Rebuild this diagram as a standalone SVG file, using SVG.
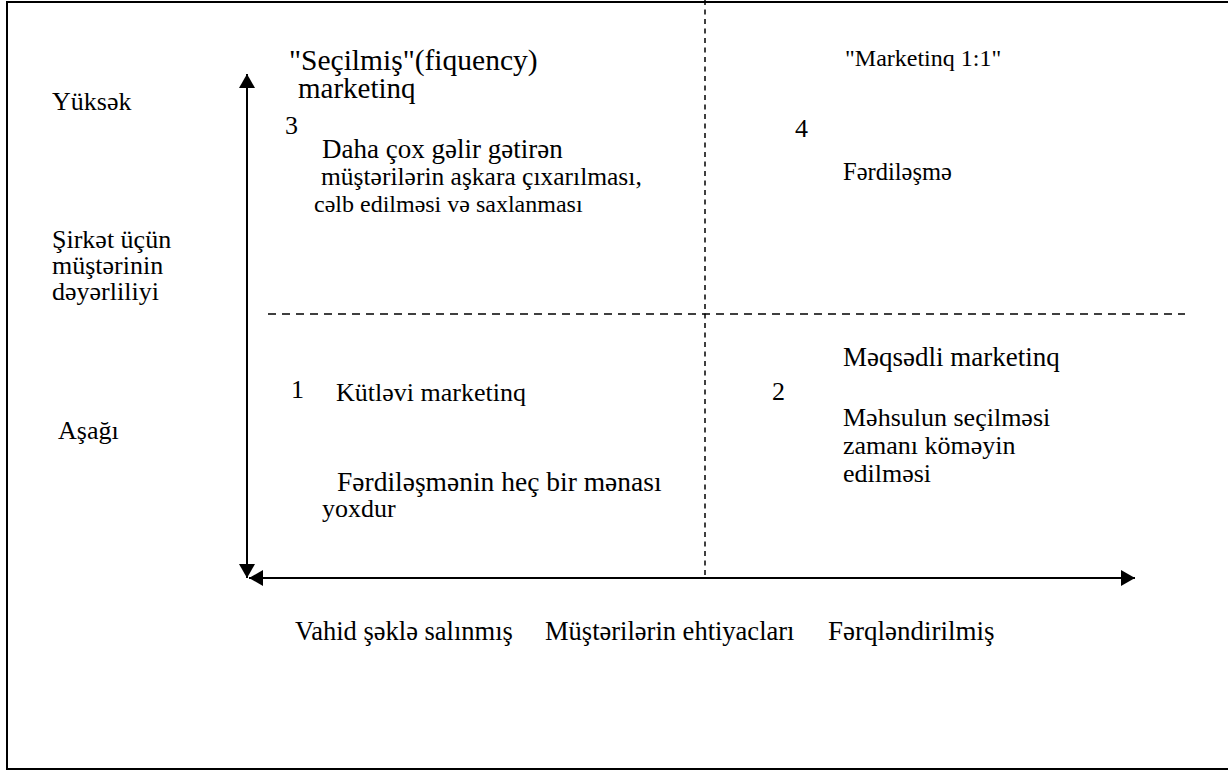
<svg xmlns="http://www.w3.org/2000/svg" width="1228" height="771" viewBox="0 0 1228 771">
  <defs>
    <marker id="arrow" viewBox="0 0 14 16" refX="14" refY="8" markerWidth="14" markerHeight="16" markerUnits="userSpaceOnUse" orient="auto-start-reverse">
      <path d="M0,0 L14,8 L0,16 Z" fill="#000"/>
    </marker>
    <style>
      .axis { stroke: #000; stroke-width: 2; fill: none; }
      .dash-v { stroke: #000; stroke-width: 1.5; stroke-dasharray: 5 4.5; fill: none; }
      .dash-h { stroke: #000; stroke-width: 1.5; stroke-dasharray: 8 6; fill: none; }
      .frame { stroke: #000; stroke-width: 2; fill: #fff; }
    </style>
  </defs>

  <rect class="frame" x="7" y="2" width="1240" height="767"/>

  <!-- axes and quadrant dividers -->
  <g id="connectors">
    <line class="dash-v" x1="705" y1="0" x2="705" y2="578"/>
    <line class="dash-h" x1="268" y1="314" x2="1185" y2="314"/>
    <line class="axis" x1="247" y1="74" x2="247" y2="578" marker-start="url(#arrow)" marker-end="url(#arrow)"/>
    <line class="axis" x1="249" y1="578" x2="1135" y2="578" marker-start="url(#arrow)" marker-end="url(#arrow)"/>
  </g>

  <g font-family="'Liberation Serif', 'Times New Roman', serif" font-size="26" fill="#000">
    <!-- vertical axis labels -->
    <g id="axis-y-labels">
      <text x="52" y="110">Yüksək</text>
      <text x="52" y="248">Şirkət üçün</text>
      <text x="52" y="274">müştərinin</text>
      <text x="52" y="300">dəyərliliyi</text>
      <text x="58" y="439">Aşağı</text>
    </g>

    <!-- horizontal axis labels -->
    <g id="axis-x-labels">
      <text x="295" y="640" font-size="26.5">Vahid şəklə salınmış</text>
      <text x="545" y="640" font-size="26.5">Müştərilərin ehtiyacları</text>
      <text x="828" y="640" font-size="27">Fərqləndirilmiş</text>
    </g>

    <!-- quadrant 3: top left -->
    <g id="quadrant-3">
      <text x="289" y="70" font-size="29.5">"Seçilmiş"(fiquency)</text>
      <text x="298" y="98" font-size="29">marketinq</text>
      <text x="285" y="134">3</text>
      <text x="322" y="158" font-size="27">Daha çox gəlir gətirən</text>
      <text x="321" y="185" font-size="25.5">müştərilərin aşkara çıxarılması,</text>
      <text x="314" y="212" font-size="24">cəlb edilməsi və saxlanması</text>
    </g>

    <!-- quadrant 4: top right -->
    <g id="quadrant-4">
      <text x="845" y="66" font-size="24">"Marketinq 1:1"</text>
      <text x="795" y="137">4</text>
      <text x="843" y="180" font-size="24.5">Fərdiləşmə</text>
    </g>

    <!-- quadrant 1: bottom left -->
    <g id="quadrant-1">
      <text x="291" y="398">1</text>
      <text x="336" y="401">Kütləvi marketinq</text>
      <text x="337" y="491" font-size="27.5">Fərdiləşmənin heç bir mənası</text>
      <text x="322" y="517">yoxdur</text>
    </g>

    <!-- quadrant 2: bottom right -->
    <g id="quadrant-2">
      <text x="772" y="400">2</text>
      <text x="843" y="366" font-size="27">Məqsədli marketinq</text>
      <text x="843" y="426">Məhsulun seçilməsi</text>
      <text x="843" y="454">zamanı köməyin</text>
      <text x="843" y="482">edilməsi</text>
    </g>
  </g>
</svg>
